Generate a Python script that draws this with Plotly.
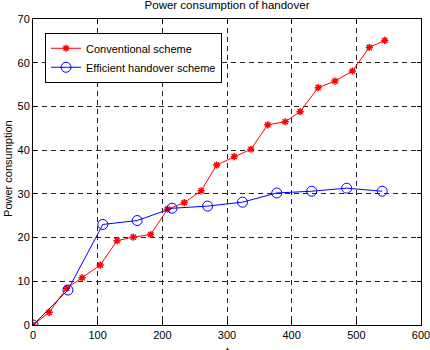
import plotly.graph_objects as go

conv_x = [0, 25, 52, 76, 104, 130, 155, 182, 208, 234, 260, 284, 311, 337, 363, 390, 413, 441, 467, 494, 520, 544]
conv_y = [0, 2.9, 8.4, 10.8, 13.7, 19.3, 20.1, 20.7, 26.5, 28.0, 30.7, 36.6, 38.5, 40.2, 45.8, 46.5, 48.8, 54.3, 55.8, 58.1, 63.5, 65.1]

eff_x = [0, 54, 108, 161, 215, 270, 324, 377, 431, 485, 540]
eff_y = [0, 8.0, 23.0, 23.9, 26.7, 27.2, 28.1, 30.2, 30.6, 31.3, 30.6]

x_ticks = [0, 100, 200, 300, 400, 500, 600]
y_ticks = [0, 10, 20, 30, 40, 50, 60, 70]

FONT = "Liberation Sans, Arial"

fig = go.Figure()
fig.add_trace(go.Scatter(
    x=conv_x, y=conv_y, mode="lines+markers", name="Conventional scheme",
    line=dict(color="#ff0000", width=1),
    marker=dict(symbol="asterisk-open", size=6, color="#ff0000",
                line=dict(color="#ff0000", width=1.5)),
))
fig.add_trace(go.Scatter(
    x=eff_x, y=eff_y, mode="lines+markers", name="Efficient handover scheme",
    line=dict(color="#0000ff", width=1),
    marker=dict(symbol="circle-open", size=10, color="#0000ff",
                line=dict(color="#0000ff", width=1)),
))

axis_common = dict(
    showline=True, linecolor="black", linewidth=1, mirror="ticks",
    ticks="inside", ticklen=4, tickcolor="black", ticklabeloverflow="allow",
    showgrid=True, gridcolor="#222222", gridwidth=1, griddash="5px,4px",
    zeroline=False, tickfont=dict(family=FONT, size=11, color="black"),
)

fig.update_xaxes(range=[0, 600], tickvals=x_ticks, **axis_common)
fig.update_yaxes(range=[0, 70], tickvals=y_ticks, **axis_common)

fig.add_annotation(text="t", xref="paper", yref="paper", x=0.5, y=-0.0588,
                   xanchor="center", yanchor="top", showarrow=False,
                   font=dict(family=FONT, size=11, color="black"))
fig.add_annotation(text="Power consumption", xref="paper", yref="paper", x=-0.0644, y=0.51,
                   xanchor="center", yanchor="middle", textangle=-90, showarrow=False,
                   font=dict(family=FONT, size=11, color="black"))

fig.update_layout(
    width=430, height=350,
    margin=dict(l=33, r=9, t=19, b=25, autoexpand=False),
    paper_bgcolor="white", plot_bgcolor="white",
    title=dict(text="Power consumption of handover", x=0.528, xanchor="center", y=0.997, yanchor="top",
               font=dict(family=FONT, size=11.5, color="black")),
    showlegend=True,
    legend=dict(x=0.031, y=0.955, xanchor="left", yanchor="top", bgcolor="white",
                bordercolor="black", borderwidth=1,
                font=dict(family=FONT, size=11, color="black"),
                tracegroupgap=0, itemwidth=30),
    font=dict(family=FONT, size=11, color="black"),
)

fig.write_html("out.html")
